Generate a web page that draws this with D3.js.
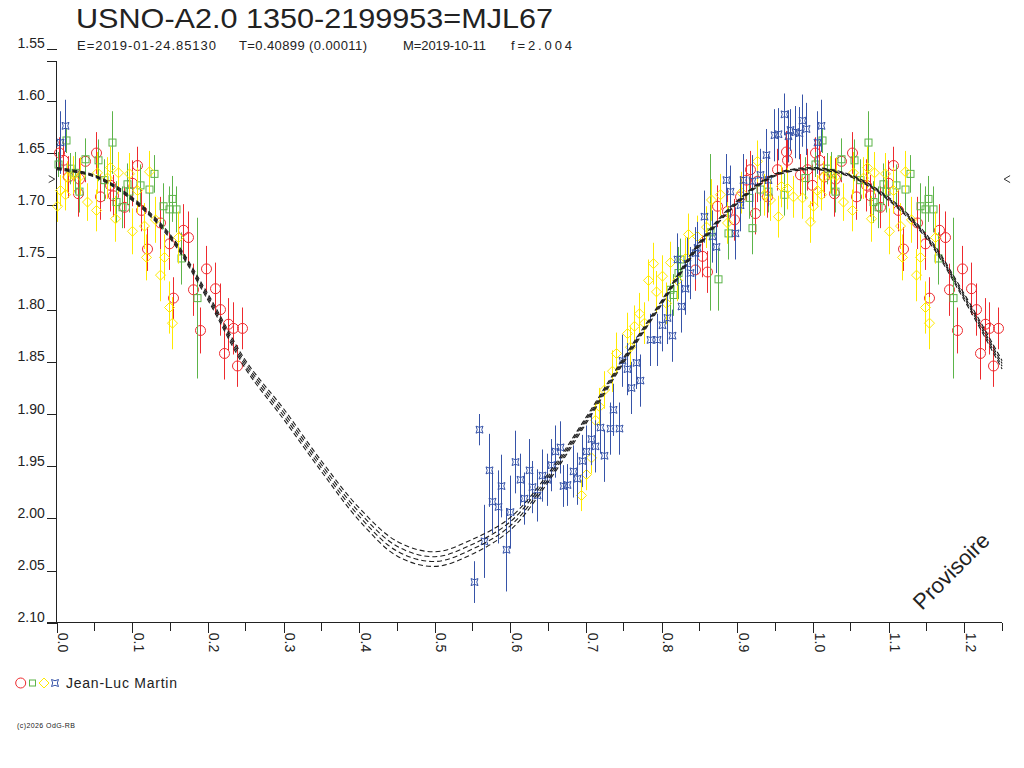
<!DOCTYPE html>
<html><head><meta charset="utf-8">
<script src="https://cdn.jsdelivr.net/npm/d3@7/dist/d3.min.js"></script>
<style>
body{margin:0;background:#fff}
svg{display:block}
text{font-family:"Liberation Sans",Arial,Helvetica,sans-serif;fill:#222}
</style>
</head><body>
<svg id="chart" width="1024" height="768"></svg>
<script>
// ---------------- data ----------------
const titleText = "USNO-A2.0 1350-2199953=MJL67";
const subtitleFields = ["E=2019-01-24.85130", "T=0.40899 (0.00011)", "M=2019-10-11", "f=2.004"];
const observerName = "Jean-Luc Martin";
const copyrightText = "(c)2026 OdG-RB";
const watermarkText = "Provisoire";

const yTickValues = [1.55, 1.60, 1.65, 1.70, 1.75, 1.80, 1.85, 1.90, 1.95, 2.00, 2.05, 2.10];
const xTickValues = [0.0, 0.1, 0.2, 0.3, 0.4, 0.5, 0.6, 0.7, 0.8, 0.9, 1.0, 1.1, 1.2];
const xMinorValues = [0.05, 0.15, 0.25, 0.35, 0.45, 0.55, 0.65, 0.75, 0.85, 0.95, 1.05, 1.15, 1.25];
const meanMag = 1.675;

// fitted light curve (phase, magnitude) and half-width of its uncertainty band
const curvePhase = [0.00, 0.05, 0.10, 0.15, 0.20, 0.25, 0.30, 0.35, 0.40, 0.45, 0.50,
                    0.55, 0.60, 0.65, 0.70, 0.75, 0.80, 0.85, 0.90, 0.95, 1.00];
const curveMag   = [1.665, 1.672, 1.694, 1.730, 1.788, 1.853, 1.900, 1.950, 1.996, 2.029, 2.039,
                    2.027, 2.005, 1.961, 1.906, 1.848, 1.793, 1.737, 1.697, 1.671, 1.665];
const curveHalfWidth = [0.001, 0.001, 0.0015, 0.002, 0.003, 0.004, 0.005, 0.005, 0.006, 0.007, 0.007,
                        0.007, 0.006, 0.004, 0.003, 0.0025, 0.002, 0.002, 0.0015, 0.001, 0.001];
const bandOffsets = [-1, -0.33, 0.33, 1];

// observations: [phase, magnitude, error]
const redPoints = [
 [0.003,1.650,0.015],[0.008,1.657,0.018],[0.015,1.673,0.020],[0.029,1.675,0.020],[0.028,1.689,0.022],
 [0.037,1.658,0.020],[0.052,1.650,0.020],[0.057,1.692,0.022],[0.070,1.681,0.025],[0.075,1.691,0.020],
 [0.089,1.702,0.020],[0.099,1.679,0.022],[0.106,1.662,0.018],[0.112,1.705,0.020],[0.119,1.742,0.021],
 [0.137,1.717,0.025],[0.148,1.737,0.025],[0.154,1.789,0.020],[0.167,1.724,0.025],[0.174,1.731,0.025],
 [0.180,1.781,0.025],[0.190,1.820,0.022],[0.197,1.761,0.022],[0.209,1.780,0.025],[0.216,1.800,0.025],
 [0.221,1.842,0.025],[0.227,1.814,0.025],[0.233,1.818,0.025],[0.238,1.854,0.020],[0.245,1.818,0.020],
 [0.844,1.762,0.020],[0.853,1.749,0.020],[0.860,1.764,0.020],[0.873,1.701,0.020],[0.886,1.706,0.022],
 [0.895,1.714,0.020],[0.904,1.692,0.020],[0.912,1.676,0.020],[0.917,1.666,0.018],[0.923,1.708,0.020],
 [0.926,1.677,0.020],[0.939,1.692,0.020],[0.952,1.666,0.020],[0.964,1.649,0.020],[0.965,1.657,0.020],
 [0.983,1.671,0.020],[0.992,1.666,0.020],[0.998,1.681,0.020]
];
const greenPoints = [
 [0.002,1.661,0.012],[0.012,1.638,0.012],[0.018,1.665,0.015],[0.024,1.669,0.020],[0.029,1.687,0.020],
 [0.037,1.656,0.020],[0.054,1.657,0.020],[0.062,1.676,0.020],[0.073,1.640,0.030],[0.079,1.697,0.020],
 [0.086,1.702,0.020],[0.093,1.680,0.020],[0.096,1.687,0.020],[0.110,1.681,0.020],[0.122,1.685,0.022],
 [0.128,1.670,0.018],[0.141,1.701,0.022],[0.148,1.704,0.022],[0.152,1.694,0.022],[0.158,1.704,0.022],
 [0.165,1.751,0.025],[0.185,1.789,0.077],
 [0.811,1.781,0.025],[0.815,1.786,0.020],[0.822,1.765,0.025],[0.824,1.752,0.020],[0.864,1.726,0.075],
 [0.875,1.771,0.030],[0.888,1.727,0.025],[0.915,1.693,0.020],[0.919,1.722,0.025],[0.930,1.685,0.025],
 [0.941,1.687,0.020],[0.961,1.690,0.020],[0.990,1.674,0.020]
];
const yellowPoints = [
 [0.000,1.701,0.015],[0.005,1.686,0.015],[0.011,1.690,0.015],[0.013,1.673,0.015],[0.022,1.671,0.018],
 [0.031,1.672,0.018],[0.040,1.697,0.018],[0.052,1.705,0.020],[0.053,1.669,0.020],[0.066,1.674,0.020],
 [0.071,1.664,0.020],[0.077,1.713,0.022],[0.081,1.669,0.020],[0.095,1.670,0.020],[0.100,1.725,0.022],
 [0.106,1.686,0.022],[0.115,1.720,0.022],[0.118,1.750,0.022],[0.122,1.668,0.020],[0.130,1.714,0.022],
 [0.136,1.767,0.025],[0.142,1.750,0.022],[0.148,1.798,0.025],[0.153,1.813,0.025],[0.161,1.731,0.025],
 [0.693,1.978,0.015],[0.700,1.958,0.015],[0.706,1.942,0.015],[0.712,1.906,0.018],[0.717,1.893,0.018],
 [0.723,1.877,0.018],[0.734,1.859,0.020],[0.740,1.842,0.020],[0.754,1.823,0.020],[0.758,1.836,0.020],
 [0.763,1.816,0.020],[0.770,1.804,0.020],[0.776,1.813,0.020],[0.782,1.772,0.020],[0.788,1.756,0.020],
 [0.793,1.783,0.020],[0.800,1.768,0.020],[0.806,1.794,0.020],[0.811,1.755,0.020],[0.820,1.772,0.020],
 [0.831,1.751,0.020],[0.835,1.728,0.020],[0.846,1.730,0.020],[0.859,1.721,0.020],[0.865,1.695,0.020],
 [0.877,1.690,0.020],[0.886,1.717,0.020],[0.905,1.688,0.020],[0.926,1.658,0.020],[0.935,1.690,0.020],
 [0.943,1.695,0.020],[0.954,1.711,0.020],[0.958,1.682,0.020],[0.965,1.684,0.020],[0.974,1.692,0.020],
 [0.985,1.693,0.020],[0.996,1.716,0.020]
];
const bluePoints = [
 [0.005,1.640,0.030],[0.011,1.624,0.025],
 [0.552,2.061,0.020],[0.559,1.915,0.015],[0.565,2.022,0.035],[0.571,1.954,0.035],[0.576,1.984,0.030],
 [0.583,1.989,0.035],[0.588,1.969,0.030],[0.594,2.030,0.040],[0.600,1.994,0.035],[0.606,1.946,0.030],
 [0.612,1.963,0.025],[0.618,1.981,0.025],[0.624,1.954,0.030],[0.629,1.970,0.025],[0.635,1.978,0.025],
 [0.641,1.959,0.025],[0.648,1.963,0.025],[0.653,1.949,0.025],[0.659,1.936,0.025],[0.665,1.932,0.025],
 [0.670,1.969,0.020],[0.675,1.968,0.020],[0.682,1.955,0.025],[0.688,1.962,0.025],[0.694,1.945,0.025],
 [0.700,1.936,0.025],[0.706,1.924,0.025],[0.712,1.931,0.025],[0.718,1.913,0.025],[0.724,1.940,0.025],
 [0.731,1.914,0.025],[0.736,1.896,0.025],[0.743,1.914,0.025],[0.747,1.849,0.025],[0.754,1.857,0.025],
 [0.759,1.875,0.025],[0.766,1.851,0.025],[0.771,1.868,0.025],[0.785,1.829,0.025],[0.794,1.829,0.025],
 [0.800,1.815,0.025],[0.807,1.808,0.025],[0.813,1.825,0.025],[0.820,1.752,0.025],[0.825,1.797,0.025],
 [0.831,1.780,0.025],[0.833,1.756,0.025],[0.837,1.765,0.025],[0.844,1.746,0.025],[0.846,1.741,0.025],
 [0.856,1.711,0.025],[0.866,1.730,0.025],[0.872,1.740,0.025],[0.885,1.676,0.025],[0.890,1.687,0.025],
 [0.897,1.727,0.025],[0.903,1.700,0.025],[0.908,1.676,0.025],[0.919,1.677,0.025],[0.930,1.671,0.025],
 [0.938,1.652,0.025],[0.941,1.676,0.025],[0.948,1.633,0.025],[0.954,1.632,0.025],[0.962,1.613,0.020],
 [0.967,1.634,0.025],[0.970,1.628,0.020],[0.976,1.630,0.025],[0.981,1.631,0.025],[0.985,1.619,0.025],
 [0.991,1.627,0.025]
];

// ---------------- drawing ----------------
const svg = d3.select("#chart");
const x = d3.scaleLinear().domain([0, 1.25]).range([56.7, 1002.1]);
const y = d3.scaleLinear().domain([1.55, 2.10]).range([48.6, 622.8]);
const xMax = x.domain()[1];

const colors = {red: "#ee2a2e", green: "#5cb449", yellow: "#ffea00", blue: "#3653a8", ink: "#222"};

// fold: points with phase+1 inside the axis are repeated
function folded(points) {
  const out = points.map(d => ({p: d[0], m: d[1], e: d[2]}));
  points.forEach(d => { if (d[0] + 1 <= xMax) out.push({p: d[0] + 1, m: d[1], e: d[2]}); });
  return out;
}

// title
svg.append("text").attr("x", 76).attr("y", 28).attr("font-size", 28)
  .attr("textLength", 477).attr("lengthAdjust", "spacingAndGlyphs").text(titleText);
const subX = [77, 239, 403, 511];
const subW = [139, 128, 83, 61];
subtitleFields.forEach((t, i) => {
  svg.append("text").attr("x", subX[i]).attr("y", 50).attr("font-size", 13).attr("fill", "#333")
    .attr("textLength", subW[i]).attr("lengthAdjust", "spacing").text(t);
});

// axes
const yAxis = d3.axisLeft(y).tickValues(yTickValues).tickSize(10).tickFormat(d3.format(".2f"));
const gy = svg.append("g").attr("transform", `translate(${x(0)},0)`).call(yAxis);
gy.select(".domain").remove();
gy.selectAll(".tick line").attr("stroke", colors.ink).attr("shape-rendering", "crispEdges");
gy.selectAll(".tick text").attr("x", -12).attr("dy", "-1").attr("font-size", 14)
  .attr("font-family", "Liberation Sans, Arial, sans-serif").attr("fill", "#333");
// y axis line (starts slightly below the top tick, with a short cap)
svg.append("path").attr("d", `M${x(0) - 10},61.5H${x(0)}V${y(2.10)}`)
  .attr("fill", "none").attr("stroke", colors.ink).attr("shape-rendering", "crispEdges");

const xAxis = d3.axisBottom(x).tickValues(xTickValues).tickSize(10).tickFormat(d3.format(".1f"));
const gx = svg.append("g").attr("transform", `translate(0,${y(2.10)})`).call(xAxis);
gx.select(".domain").remove();
gx.selectAll(".tick line").attr("stroke", colors.ink).attr("shape-rendering", "crispEdges");
gx.selectAll(".tick text").attr("transform", "rotate(90)").attr("x", 10).attr("y", -1)
  .attr("dy", 0).attr("text-anchor", "start").attr("font-size", 14)
  .attr("font-family", "Liberation Sans, Arial, sans-serif").attr("fill", "#333");
svg.append("g").selectAll("line").data(xMinorValues).join("line")
  .attr("x1", d => x(d)).attr("x2", d => x(d)).attr("y1", y(2.10)).attr("y2", y(2.10) + 8)
  .attr("stroke", colors.ink).attr("shape-rendering", "crispEdges");
svg.append("line").attr("x1", x(0) - 10).attr("x2", x(xMax)).attr("y1", y(2.10)).attr("y2", y(2.10))
  .attr("stroke", colors.ink).attr("shape-rendering", "crispEdges");

// mean markers
const ym = y(meanMag);
svg.append("path").attr("d", `M${x(0) - 8},${ym - 3.5}L${x(0) - 2},${ym}L${x(0) - 8},${ym + 3.5}`)
  .attr("fill", "none").attr("stroke", "#333");
svg.append("path").attr("d", `M${x(xMax) + 8},${ym - 3.5}L${x(xMax) + 2},${ym}L${x(xMax) + 8},${ym + 3.5}`)
  .attr("fill", "none").attr("stroke", "#333");

// marker shapes
function starPath(s) {
  const c = s * 0.3;
  return `M${-s},${-s}Q0,${-c} ${s},${-s}Q${c},0 ${s},${s}Q0,${c} ${-s},${s}Q${-c},0 ${-s},${-s}Z`;
}
const shapes = {
  circle: g => g.append("circle").attr("r", 5),
  square: g => g.append("rect").attr("x", -3.5).attr("y", -3.5).attr("width", 7).attr("height", 7),
  diamond: g => g.append("path").attr("d", "M0,-5L5,0L0,5L-5,0Z"),
  star: g => g.append("path").attr("d", starPath(3.5))
};

function drawSeries(points, color, shape) {
  const data = folded(points);
  const g = svg.append("g");
  g.selectAll("line").data(data).join("line")
    .attr("x1", d => Math.round(x(d.p)) + 0.5).attr("x2", d => Math.round(x(d.p)) + 0.5)
    .attr("y1", d => y(d.m - d.e)).attr("y2", d => y(d.m + d.e))
    .attr("stroke", color).attr("stroke-width", 1);
  g.selectAll("g.mk").data(data).join("g").attr("class", "mk")
    .attr("transform", d => `translate(${Math.round(x(d.p)) + 0.5},${y(d.m)})`)
    .each(function () { shapes[shape](d3.select(this)); })
    .selectAll("*").attr("fill", "none").attr("stroke", color).attr("stroke-width", 1);
}
drawSeries(redPoints, colors.red, "circle");
drawSeries(greenPoints, colors.green, "square");
drawSeries(yellowPoints, colors.yellow, "diamond");
drawSeries(bluePoints, colors.blue, "star");

// fitted curve band (drawn over the observations)
const curveData = curvePhase.map((p, i) => ({p, m: curveMag[i], h: curveHalfWidth[i]}));
curvePhase.forEach((p, i) => { if (p > 0 && p + 1 <= xMax) curveData.push({p: p + 1, m: curveMag[i], h: curveHalfWidth[i]}); });
const gc = svg.append("g");
bandOffsets.forEach(k => {
  const line = d3.line().x(d => x(d.p)).y(d => y(d.m + k * d.h)).curve(d3.curveCatmullRom);
  gc.append("path").attr("d", line(curveData)).attr("fill", "none")
    .attr("stroke", "#1e1e1e").attr("stroke-width", 1.1).attr("stroke-dasharray", "5,3");
});

// watermark
svg.append("text").attr("transform", "translate(922,611) rotate(-45)").attr("font-size", 22)
  .attr("fill", "#333").text(watermarkText);

// legend
const lg = svg.append("g");
shapes.circle(lg.append("g").attr("transform", "translate(20.7,683)")).attr("fill", "none").attr("stroke", colors.red);
shapes.square(lg.append("g").attr("transform", "translate(32.5,683)")).attr("fill", "none").attr("stroke", colors.green)
  .attr("x", -3).attr("y", -3).attr("width", 6).attr("height", 6);
shapes.diamond(lg.append("g").attr("transform", "translate(44,683)")).attr("fill", "none").attr("stroke", colors.yellow);
shapes.star(lg.append("g").attr("transform", "translate(55,683)")).attr("fill", "none").attr("stroke", colors.blue);
svg.append("text").attr("x", 66).attr("y", 688).attr("font-size", 14).attr("fill", "#333")
  .attr("textLength", 111).attr("lengthAdjust", "spacing").text(observerName);

// copyright
svg.append("text").attr("x", 17).attr("y", 728).attr("font-size", 7)
  .attr("textLength", 58).attr("lengthAdjust", "spacing").text(copyrightText);
</script>
</body></html>
